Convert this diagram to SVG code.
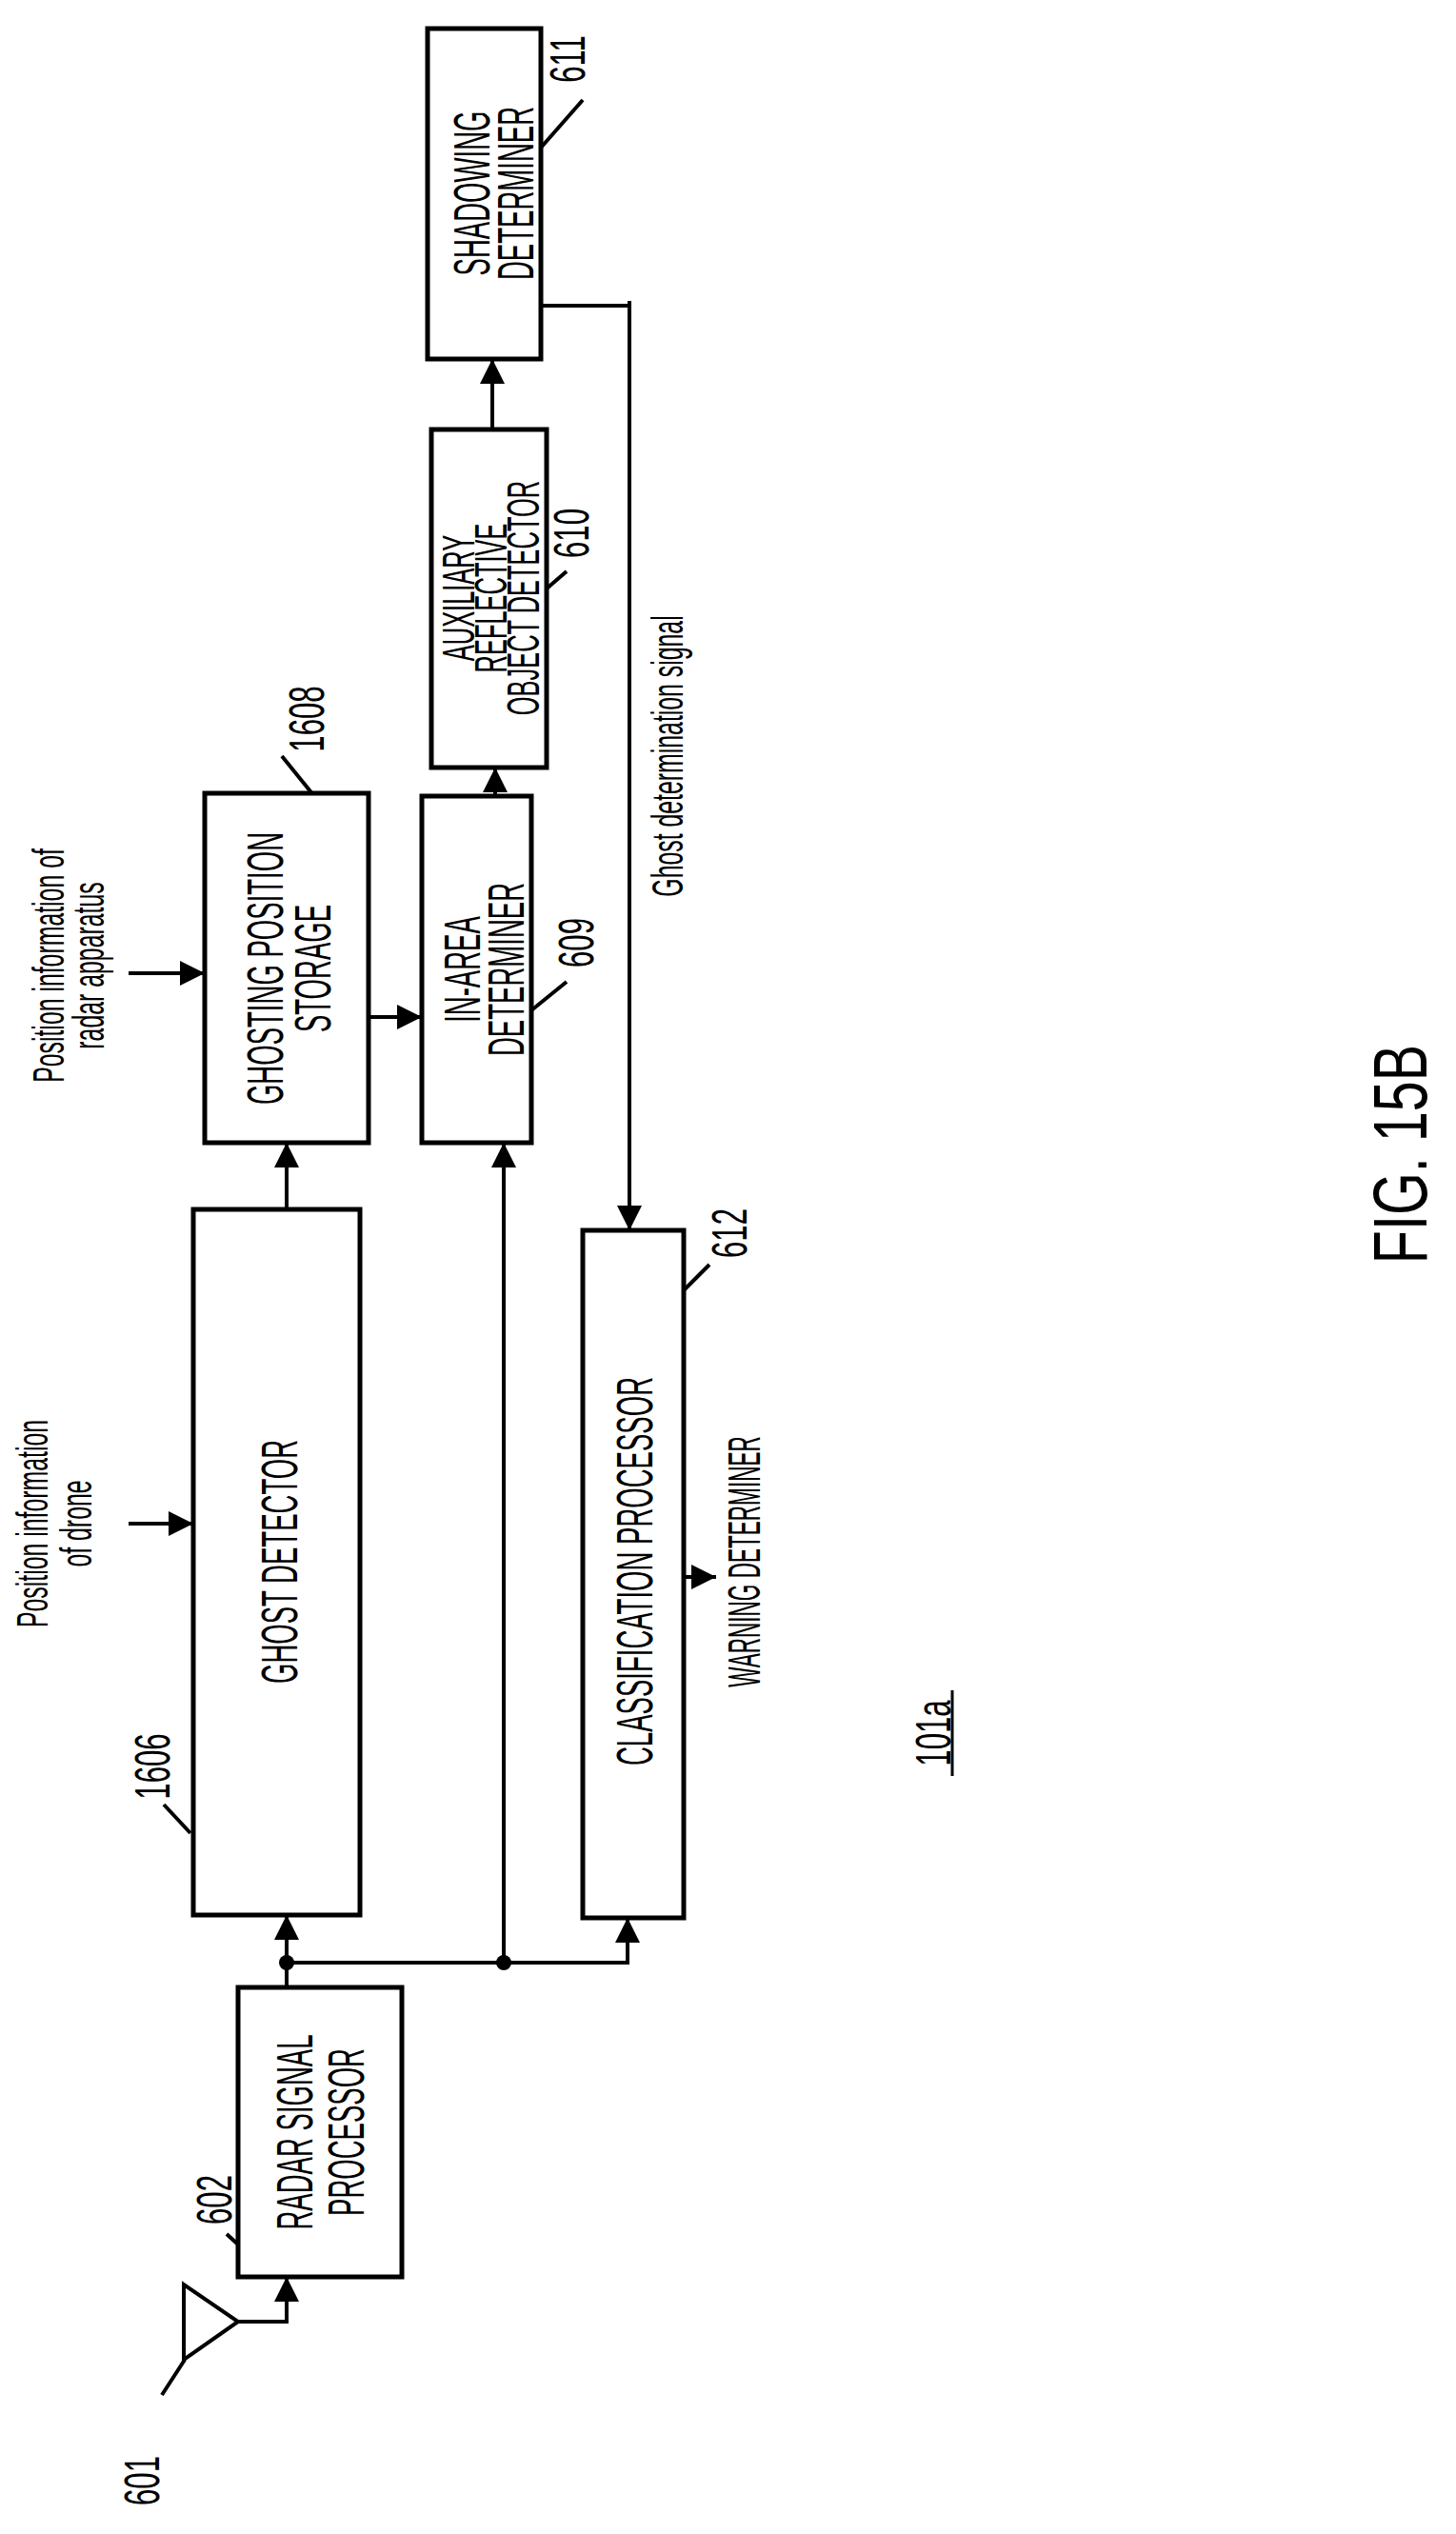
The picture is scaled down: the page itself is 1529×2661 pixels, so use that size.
<svg xmlns="http://www.w3.org/2000/svg" width="1529" height="2661" viewBox="0 0 1529 2661">
<style>
.b{fill:#fff;stroke:#000;stroke-width:5}
.c{fill:none;stroke:#000;stroke-width:4}
.t{font-family:"Liberation Sans",Arial,sans-serif;font-size:54px;text-anchor:middle;dominant-baseline:central;fill:#000}
.s{font-size:46px}
.n{font-size:52px}
</style>
<defs>
<marker id="m" viewBox="0 0 26 26" refX="26" refY="13" markerWidth="26" markerHeight="26" markerUnits="userSpaceOnUse" orient="auto"><path d="M0,0L26,13L0,26z" fill="#000"/></marker>
</defs>
<rect width="1529" height="2661" fill="#fff"/>
<g id="connectors">
<path class="c" d="M250,2438H301V2391" marker-end="url(#m)"/>
<path class="c" d="M301,2087V2011" marker-end="url(#m)"/>
<path class="c" d="M301,2061H659V2014" marker-end="url(#m)"/>
<path class="c" d="M529,2061V1200" marker-end="url(#m)"/>
<path class="c" d="M301,1270V1200" marker-end="url(#m)"/>
<path class="c" d="M387,1068H443" marker-end="url(#m)"/>
<path class="c" d="M135,1022H215" marker-end="url(#m)"/>
<path class="c" d="M135,1600H203" marker-end="url(#m)"/>
<path class="c" d="M520,836V806" marker-end="url(#m)"/>
<path class="c" d="M517,451V377" marker-end="url(#m)"/>
<path class="c" d="M568,321H661M661,316V1292" marker-end="url(#m)"/>
<path class="c" d="M718,1656H752" marker-end="url(#m)"/>
<circle cx="301" cy="2061" r="8"/>
<circle cx="529" cy="2061" r="8"/>
<path class="c" d="M170,2515L194,2478M238,2346L262,2368M172,1895L200,1925M296,794L330,836M558,1061L595,1031M566,625L595,600M568,155L612,105M718,1355L745,1328" stroke-width="3"/>
<line x1="1000" y1="1775" x2="1000" y2="1865" stroke="#000" stroke-width="3"/>
</g>
<g id="antenna"><path class="c" d="M193,2399V2478L250,2438Z"/></g>
<g id="n611"><rect class="b" x="449" y="30" width="119" height="347"/>
<text class="t" transform="translate(495,203) rotate(-90) scale(0.51,1)">SHADOWING</text>
<text class="t" transform="translate(541,203) rotate(-90) scale(0.51,1)">DETERMINER</text></g>
<g id="n610"><rect class="b" x="453" y="451" width="121" height="355"/>
<text class="t" style="font-size:48px" transform="translate(481,628) rotate(-90) scale(0.53,1)">AUXILIARY</text>
<text class="t" style="font-size:48px" transform="translate(515,628) rotate(-90) scale(0.53,1)">REFLECTIVE</text>
<text class="t" style="font-size:48px" transform="translate(549,628) rotate(-90) scale(0.53,1)">OBJECT DETECTOR</text></g>
<g id="n1608"><rect class="b" x="215" y="833" width="172" height="367"/>
<text class="t" transform="translate(278,1017) rotate(-90) scale(0.51,1)">GHOSTING POSITION</text>
<text class="t" transform="translate(328,1017) rotate(-90) scale(0.51,1)">STORAGE</text></g>
<g id="n609"><rect class="b" x="443" y="836" width="115" height="364"/>
<text class="t" transform="translate(485,1018) rotate(-90) scale(0.51,1)">IN-AREA</text>
<text class="t" transform="translate(531,1018) rotate(-90) scale(0.51,1)">DETERMINER</text></g>
<g id="n1606"><rect class="b" x="203" y="1270" width="175" height="741"/>
<text class="t" transform="translate(293,1640) rotate(-90) scale(0.51,1)">GHOST DETECTOR</text></g>
<g id="n612"><rect class="b" x="612" y="1292" width="106" height="722"/>
<text class="t" transform="translate(666,1650) rotate(-90) scale(0.51,1)">CLASSIFICATION PROCESSOR</text></g>
<g id="n602"><rect class="b" x="250" y="2087" width="172" height="304"/>
<text class="t" transform="translate(309,2239) rotate(-90) scale(0.51,1)">RADAR SIGNAL</text>
<text class="t" transform="translate(363,2239) rotate(-90) scale(0.51,1)">PROCESSOR</text></g>
<g id="labels">
<text class="t n" transform="translate(149,2605) rotate(-90) scale(0.6,1)">601</text>
<text class="t n" transform="translate(225,2310) rotate(-90) scale(0.6,1)">602</text>
<text class="t n" transform="translate(160,1855) rotate(-90) scale(0.6,1)">1606</text>
<text class="t n" transform="translate(322,755) rotate(-90) scale(0.6,1)">1608</text>
<text class="t n" transform="translate(605,990) rotate(-90) scale(0.6,1)">609</text>
<text class="t n" transform="translate(600,560) rotate(-90) scale(0.6,1)">610</text>
<text class="t n" transform="translate(596,62) rotate(-90) scale(0.6,1)">611</text>
<text class="t n" transform="translate(766,1295) rotate(-90) scale(0.6,1)">612</text>
<text class="t s" transform="translate(51,1014) rotate(-90) scale(0.54,1)">Position information of</text>
<text class="t s" transform="translate(93,1014) rotate(-90) scale(0.54,1)">radar apparatus</text>
<text class="t s" transform="translate(34,1600) rotate(-90) scale(0.54,1)">Position information</text>
<text class="t s" transform="translate(80,1600) rotate(-90) scale(0.54,1)">of drone</text>
<text class="t s" transform="translate(701,794) rotate(-90) scale(0.54,1)">Ghost determination signal</text>
<text class="t" style="font-size:48px" transform="translate(781,1640) rotate(-90) scale(0.47,1)">WARNING DETERMINER</text>
<text class="t n" transform="translate(980,1820) rotate(-90) scale(0.6,1)">101a</text>
<text class="t" style="font-size:80px" transform="translate(1470,1212) rotate(-90) scale(0.72,1)">FIG. 15B</text>
</g>
</svg>
